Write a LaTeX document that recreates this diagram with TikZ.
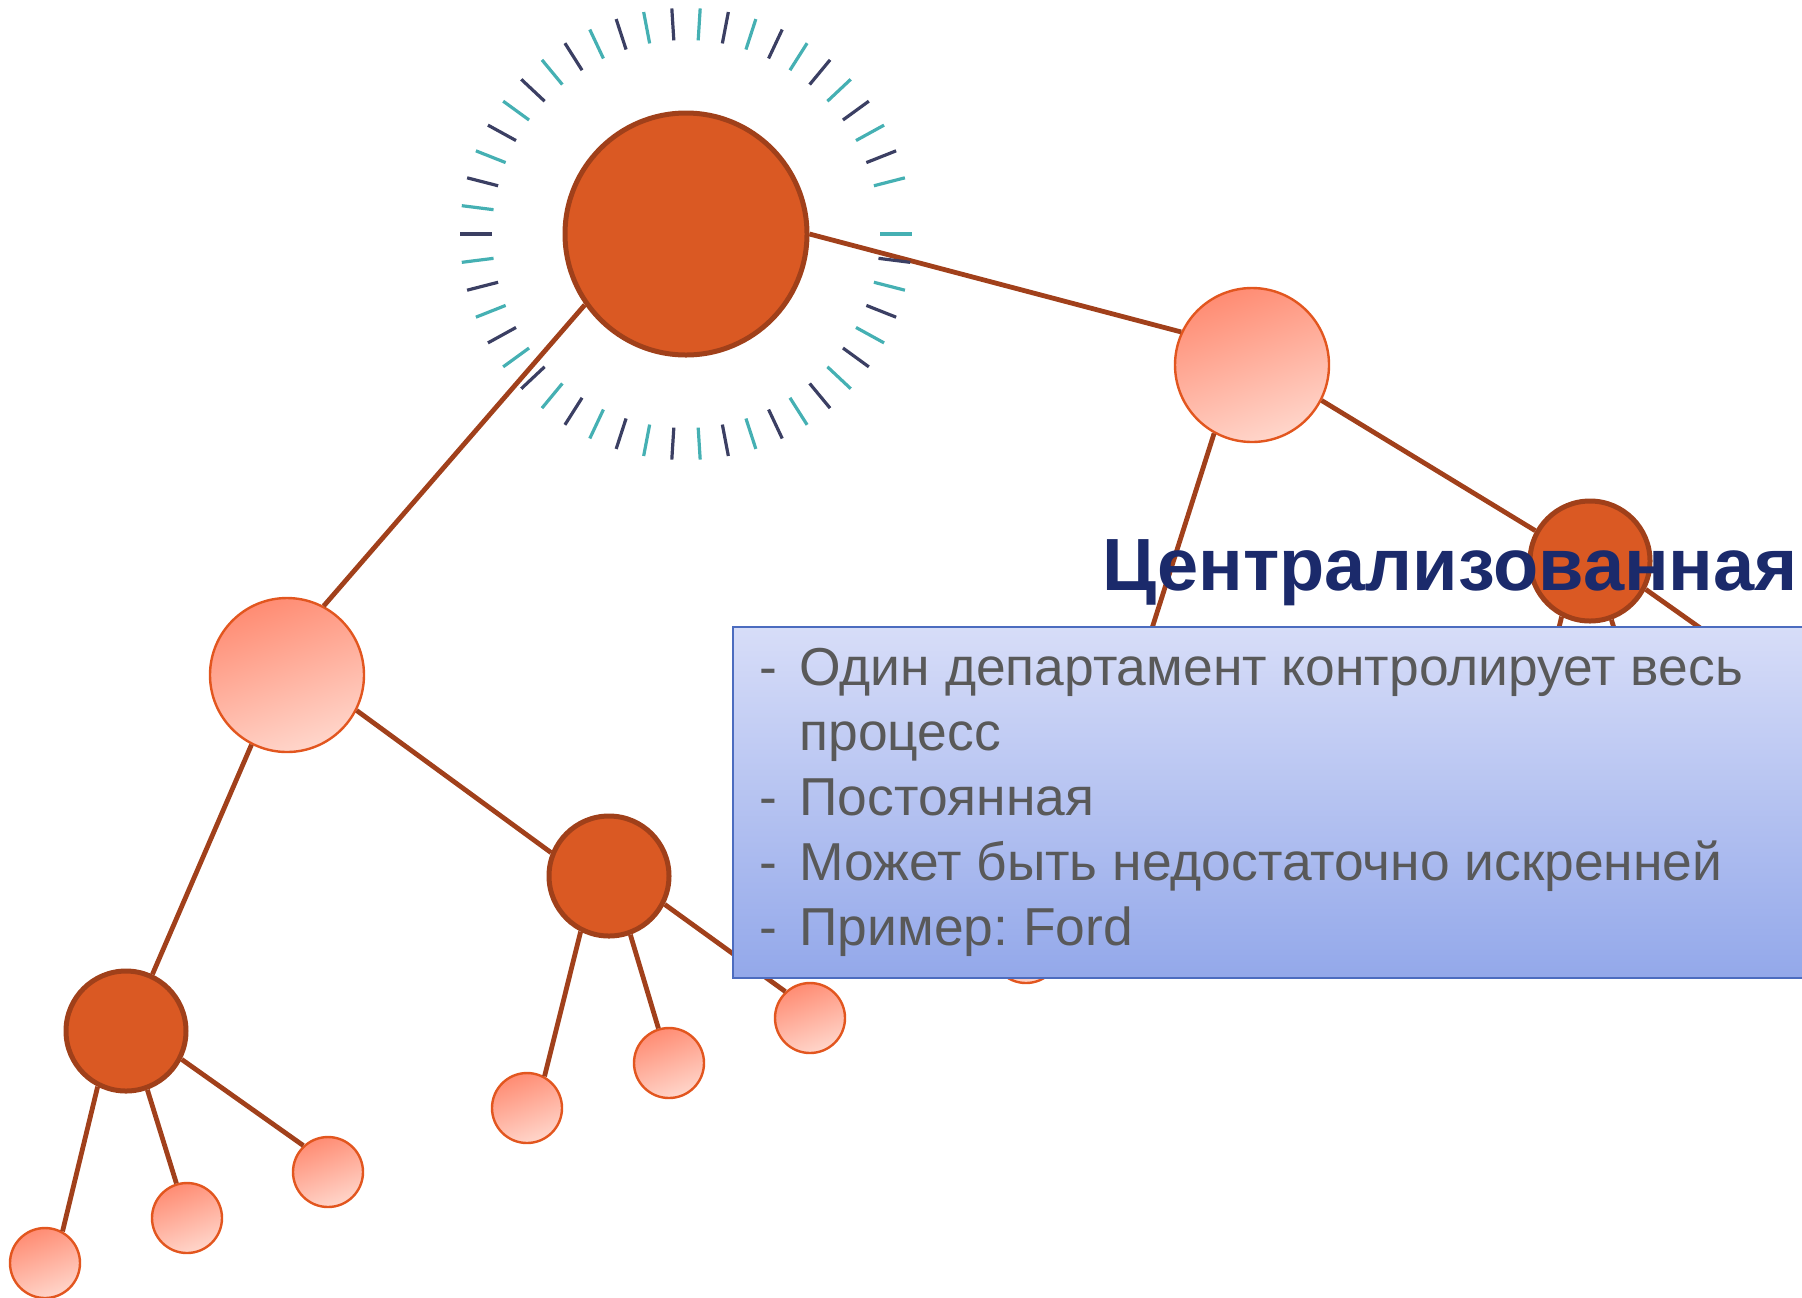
\documentclass[tikz,border=0pt]{standalone}
\usepackage{fontspec}
\setmainfont{Liberation Sans}
\usetikzlibrary{calc}

\definecolor{branch}{HTML}{A1401B}
\definecolor{hubfill}{HTML}{DA5923}
\definecolor{hubedge}{HTML}{A0401A}
\definecolor{leafedge}{HTML}{E2561F}
\definecolor{leaftop}{HTML}{FF8C73}
\definecolor{leafbot}{HTML}{FFD6CB}
\definecolor{boxtop}{HTML}{D7DDF8}
\definecolor{boxbot}{HTML}{93A8EA}
\definecolor{boxedge}{HTML}{4C6CBF}
\definecolor{titleblue}{HTML}{1B2A6B}
\definecolor{textgray}{HTML}{595959}
\definecolor{tickdark}{HTML}{3B3F63}
\definecolor{tickteal}{HTML}{45B0B3}

\frenchspacing
\begin{document}
\begin{tikzpicture}[x=0.5pt, y=-0.5pt,
  hub/.style={circle, draw=hubedge, fill=hubfill, line width=2.5pt, inner sep=0},
  leaf/.style={circle, draw=leafedge, line width=1.2pt, top color=leaftop, bottom color=leafbot, shading angle=20, inner sep=0},
  link/.style={draw=branch, line width=2.4pt}]
\useasboundingbox (0,0) rectangle (1802,1297);
\clip (0,0) rectangle (1802,1297);
% circles
\node[hub, minimum size=121pt] (root) at (686,234) {};
\node[leaf, minimum size=77pt] (l1) at (287,675) {};
\node[leaf, minimum size=77pt] (r1) at (1252,365) {};
\node[hub, minimum size=60pt] (d1) at (126,1031) {};
\node[hub, minimum size=60pt] (d2) at (609,876) {};
\node[hub, minimum size=60pt] (h1) at (1116,715) {};
\node[hub, minimum size=60pt] (dr) at (1590,561) {};
\node[leaf, minimum size=35pt] (s1) at (45,1263) {};
\node[leaf, minimum size=35pt] (s2) at (187,1218) {};
\node[leaf, minimum size=35pt] (s3) at (328,1172) {};
\node[leaf, minimum size=35pt] (s4) at (527,1108) {};
\node[leaf, minimum size=35pt] (s5) at (669,1063) {};
\node[leaf, minimum size=35pt] (s6) at (810,1018) {};
\node[leaf, minimum size=35pt] (s7) at (1026,948) {};
\coordinate (c1) at (1526,762);
\coordinate (c2) at (1641,714);
\coordinate (c3) at (1768,676);
% branches
\draw[link] (root.215) -- (l1.62);
\draw[link] (root.0) -- (r1.155);
\draw[link] (l1.243) -- (d1.65);
\draw[link] (l1.333) -- (d2.158);
\draw[link] (r1.241) -- (h1.65);
\draw[link] (r1.333) -- (dr.151);
\draw[link] (d1.243) -- (s1.61);
\draw[link] (d1.290) -- (s2.107);
\draw[link] (d1.333) -- (s3.133);
\draw[link] (d2.243) -- (s4.61);
\draw[link] (d2.290) -- (s5.107);
\draw[link] (d2.333) -- (s6.133);
\draw[link] (h1.243) -- (s7.61);
\draw[link] (dr.243) -- (c1);
\draw[link] (dr.290) -- (c2);
\draw[link] (dr.333) -- (c3);
% ring of ticks
\foreach \a in {0,14.4,...,345.6}
  \draw[tickteal, line width=1.6pt] ($(root.center)+(\a:194)$) -- ($(root.center)+(\a:226)$);
\foreach \a in {7.2,21.6,...,352.8}
  \draw[tickdark, line width=1.6pt] ($(root.center)+(\a:194)$) -- ($(root.center)+(\a:226)$);
% text box
\draw[draw=boxedge, line width=1pt, top color=boxtop, bottom color=boxbot] (733,627) rectangle (1820,978);
\node[anchor=base west, inner sep=0, text=textgray, font=\fontsize{26.7}{32.5}\selectfont] (items) at (759,685)
  {\begin{tabular}[t]{@{}l@{}}
   \makebox[20pt][l]{-}Один департамент контролирует весь\\
   \hspace*{20pt}процесс\\
   \makebox[20pt][l]{-}Постоянная\\
   \makebox[20pt][l]{-}Может быть недостаточно искренней\\
   \makebox[20pt][l]{-}Пример: Ford
   \end{tabular}};
\node[anchor=base west, inner sep=0, text=titleblue, font=\fontsize{37}{44}\selectfont\bfseries] (title) at (1102,590) {Централизованная};
\end{tikzpicture}
\end{document}
